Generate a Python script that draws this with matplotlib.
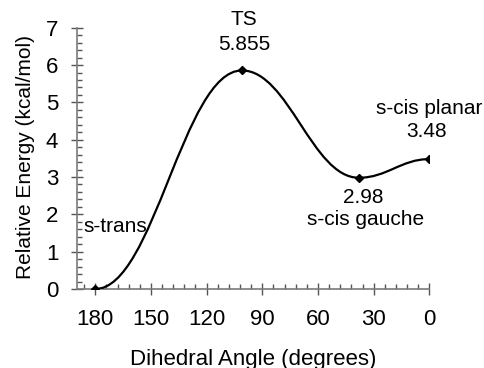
import matplotlib
matplotlib.use('Agg')
import matplotlib.pyplot as plt
from matplotlib.path import Path
from matplotlib.patches import PathPatch
from matplotlib.ticker import MultipleLocator, FixedLocator

# ---- data ----
angles = [180, 101, 38, 0]
energies = [0.0, 5.855, 2.98, 3.48]
names = ['s-trans', 'TS', 's-cis gauche', 's-cis planar']
xticks = [180, 150, 120, 90, 60, 30, 0]
yticks = [0, 1, 2, 3, 4, 5, 6, 7]

plt.rcParams['font.family'] = ['Liberation Sans', 'DejaVu Sans']
FS_TICK = 16
FS_XLAB = 16
FS_YLAB = 15
FS_NOTE = 15

fig = plt.figure(figsize=(4.84, 3.68), dpi=100)
ax = fig.add_axes([0.1585, 0.2147, 0.887 - 0.1585, 0.9247 - 0.2147])

# smooth curve: cubic Bezier segments with zero slope at each stationary point
verts = [(angles[0], energies[0])]
codes = [Path.MOVETO]
for i in range(len(angles) - 1):
    x0, y0 = angles[i], energies[i]
    x1, y1 = angles[i + 1], energies[i + 1]
    h = 0.4 * (x1 - x0)
    verts += [(x0 + h, y0), (x1 - h, y1), (x1, y1)]
    codes += [Path.CURVE4] * 3
ax.add_patch(PathPatch(Path(verts, codes), fill=False, lw=1.6, color='black',
                       capstyle='round', joinstyle='round', zorder=3))
ax.plot(angles, energies, linestyle='none', marker='D', markersize=4.2,
        color='black', zorder=4)

ax.set_xlim(190, 0)
ax.set_ylim(0, 7)
ax.xaxis.set_major_locator(FixedLocator(xticks))
ax.xaxis.set_minor_locator(MultipleLocator(6))
ax.yaxis.set_major_locator(FixedLocator(yticks))
ax.yaxis.set_minor_locator(MultipleLocator(0.2))

for s in ['top', 'right']:
    ax.spines[s].set_visible(False)
for s in ['left', 'bottom']:
    ax.spines[s].set_color('#7a7a7a')
    ax.spines[s].set_linewidth(1.2)

ax.tick_params(which='major', direction='inout', length=8.5, width=1.0,
               color='#555555', labelsize=FS_TICK, labelcolor='black')
ax.tick_params(which='minor', direction='in', length=3.5, width=1.0,
               color='#555555')
ax.tick_params(axis='x', which='major', pad=10)
ax.tick_params(axis='y', which='major', pad=9)

ax.set_xlabel('Dihedral Angle (degrees)', fontsize=FS_XLAB)
ax.xaxis.set_label_coords(0.5, -0.268)
ax.xaxis.label.set_va('center')
ax.set_ylabel('Relative Energy (kcal/mol)', fontsize=FS_YLAB)
ax.yaxis.set_label_coords(-0.145, 0.505)
ax.yaxis.label.set_va('center')

def note(i, text, dx, dy, ha='center'):
    ax.annotate(text, (angles[i], energies[i]), xytext=(dx * 0.72, dy * 0.72),
                textcoords='offset points', ha=ha, va='center', fontsize=FS_NOTE)

note(0, names[0], -12, 62, ha='left')
note(1, names[1], 2, 51)
note(1, f'{energies[1]}', 2, 26)
note(2, f'{energies[2]}', 4, -20)
note(2, names[2], 7, -42)
note(3, names[3], 0, 51)
note(3, f'{energies[3]}', -3, 28)

fig.savefig('out.png', dpi=100)
